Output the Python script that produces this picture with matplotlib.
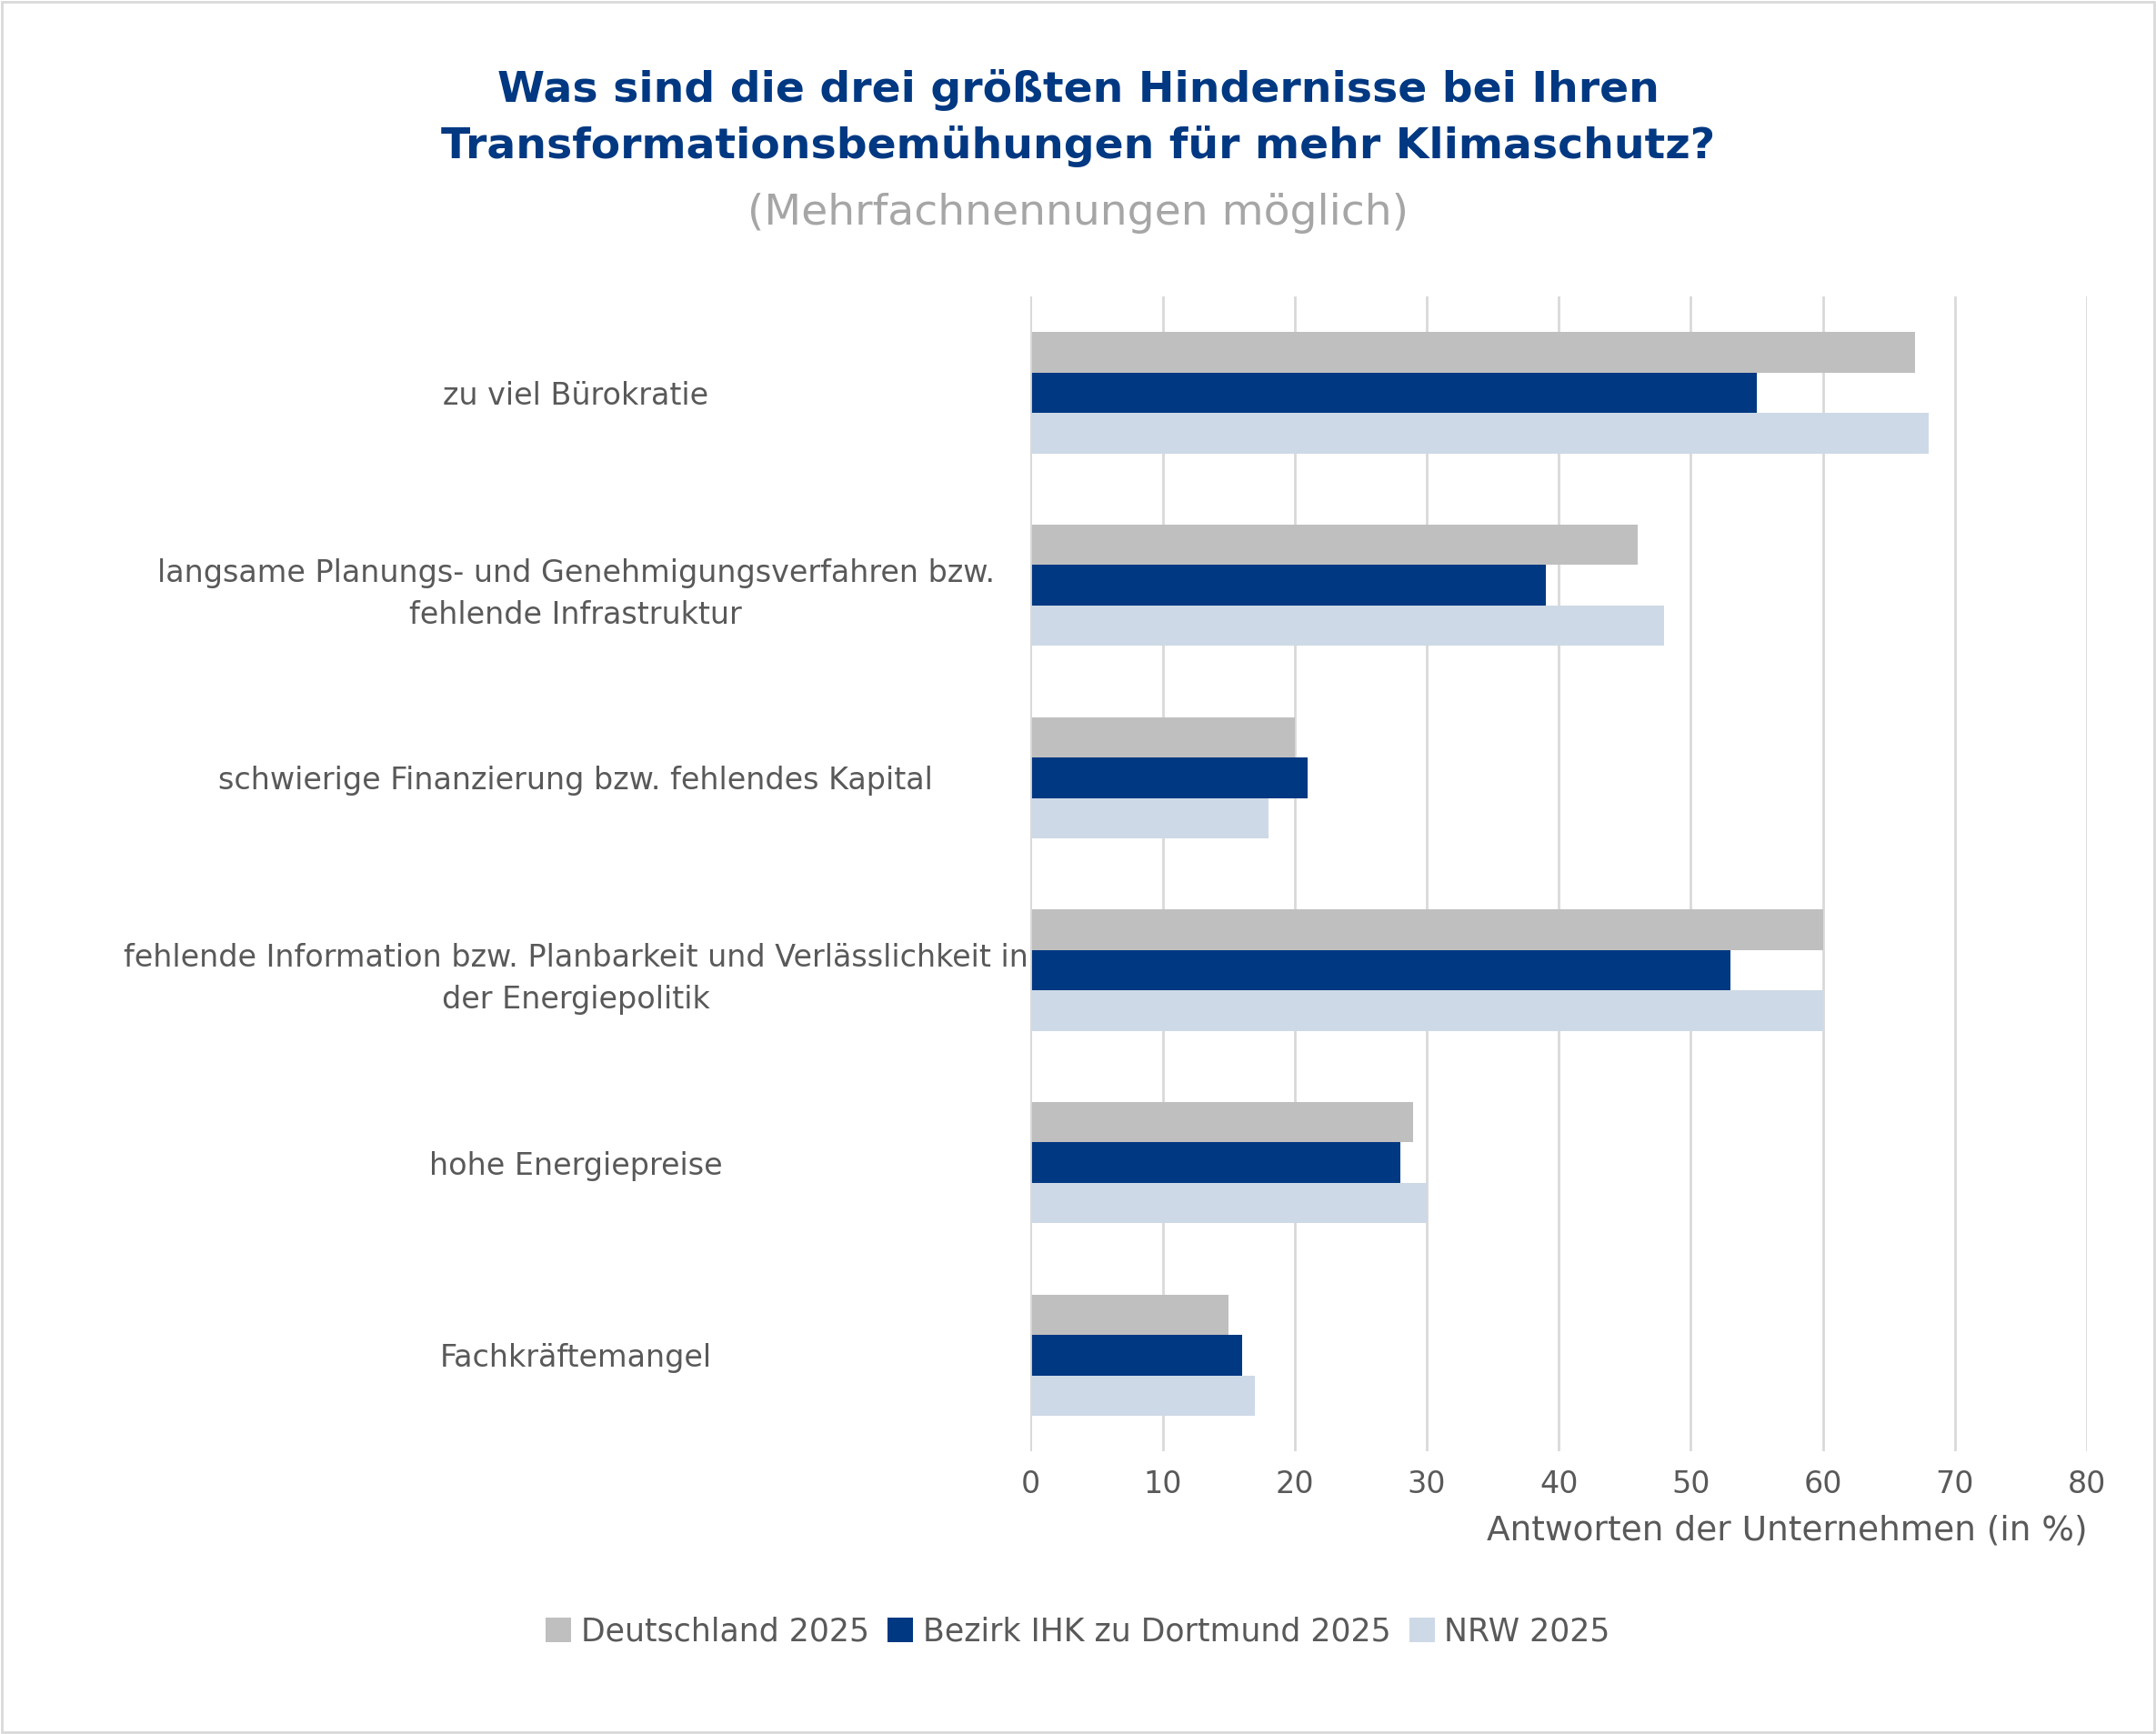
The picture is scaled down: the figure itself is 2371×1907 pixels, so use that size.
import matplotlib.pyplot as plt
import numpy as np

categories = [
    "zu viel Bürokratie",
    "langsame Planungs- und Genehmigungsverfahren bzw.\nfehlende Infrastruktur",
    "schwierige Finanzierung bzw. fehlendes Kapital",
    "fehlende Information bzw. Planbarkeit und Verlässlichkeit in\nder Energiepolitik",
    "hohe Energiepreise",
    "Fachkräftemangel",
]
series_names = ["Deutschland 2025", "Bezirk IHK zu Dortmund 2025", "NRW 2025"]
deutschland = [67, 46, 20, 60, 29, 15]
dortmund = [55, 39, 21, 53, 28, 16]
nrw = [68, 48, 18, 60, 30, 17]
x_ticks = [0, 10, 20, 30, 40, 50, 60, 70, 80]

colors = ["#BFBFBF", "#003882", "#CDD9E6"]
text_color = "#595959"

fig = plt.figure(figsize=(23.71, 19.07), dpi=100)
ax = fig.add_axes([0.478, 0.163, 0.49, 0.666])

y = np.arange(len(categories))
h = 0.21
for k, (vals, name) in enumerate(zip([deutschland, dortmund, nrw], series_names)):
    ax.barh(y + (k - 1) * h, vals, height=h, color=colors[k], label=name, zorder=3)

ax.set_ylim(len(categories) - 0.5, -0.5)
ax.set_xlim(0, 80)
ax.set_xticks(x_ticks)
ax.set_yticks(y)
ax.set_yticklabels(categories, fontsize=24, color=text_color, ha="center",
                   linespacing=1.5)
ax.tick_params(axis="y", length=0, pad=360)
ax.tick_params(axis="x", length=0, labelsize=24, labelcolor=text_color, pad=14)
ax.grid(axis="x", color="#D9D9D9", linewidth=2, zorder=0)
for s in ax.spines.values():
    s.set_visible(False)
ax.axvline(0, color="#D9D9D9", linewidth=2, zorder=4)
ax.set_xlabel("Antworten der Unternehmen (in %)", fontsize=27, color=text_color,
              labelpad=12, loc="right")

fig.text(0.5, 0.96, "Was sind die drei größten Hindernisse bei Ihren\nTransformationsbemühungen für mehr Klimaschutz?",
         ha="center", va="top", fontsize=34, fontweight="bold", color="#003882",
         linespacing=1.45)
fig.text(0.5, 0.877, "(Mehrfachnennungen möglich)", ha="center", va="center",
         fontsize=34, color="#A6A6A6")

fig.legend(loc="center", bbox_to_anchor=(0.5, 0.059), ncol=3, frameon=False,
           fontsize=25, labelcolor=text_color, handlelength=0.8, handleheight=0.8,
           handletextpad=0.3, columnspacing=0.6)

fig.patches.append(plt.Rectangle((0.001, 0.001), 0.998, 0.998, transform=fig.transFigure,
                                 fill=False, edgecolor="#D9D9D9", linewidth=2))
fig.savefig("out.png")
